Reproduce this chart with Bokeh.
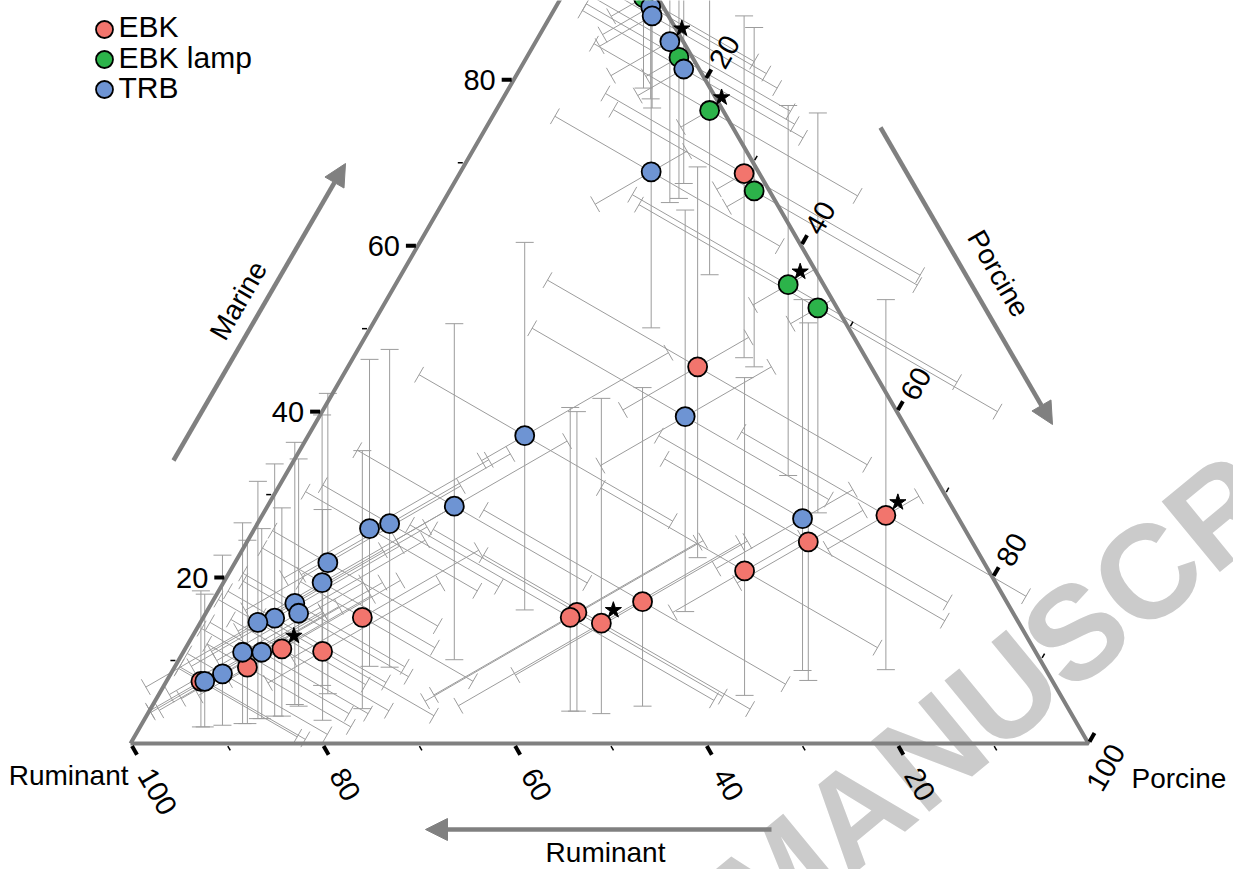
import math
from bokeh.plotting import figure
from bokeh.models import Range1d, Arrow, NormalHead, Label
from bokeh.core.properties import value
from bokeh.embed import file_html
from bokeh.resources import INLINE

# ---------------- data (percent: Marine, Porcine, Ruminant) ----------------
groups = ["EBK", "EBK lamp", "TRB"]
colors = {"EBK": "#F2756D", "EBK lamp": "#2CB34A", "TRB": "#6E94D3"}

ebk_marine   = [68.7, 45.4, 20.8, 17.1, 15.8, 15.2, 14.5, 27.5, 24.3, 15.2, 11.4, 11.1, 9.2, 7.5]
ebk_porcine  = [29.7, 36.5, 53.7, 44.9, 38.7, 38.3, 41.9, 65.1, 58.6, 16.6, 10.1, 14.5, 7.6, 3.6]
ebk_ruminant = [1.6, 18.1, 25.5, 38.0, 45.5, 46.5, 43.6, 7.4, 17.1, 68.2, 78.5, 74.4, 83.2, 88.9]
ebk_m_lo = [46.5, 22.4, 5.8, 4.5, 3.9, 3.9, 3.6, 8.9, 7.6, 4.2, 3.3, 2.8, 2.4, 2.0]
ebk_m_hi = [87.7, 69.5, 44.1, 42.9, 40.0, 40.5, 41.6, 53.5, 50.7, 35.3, 28.4, 28.2, 24.5, 18.4]
ebk_p_lo = [10.4, 15.6, 33.7, 22.8, 18.7, 16.0, 25.5, 45.0, 38.6, 8.0, 3.0, 6.0, 2.0, 0.5]
ebk_p_hi = [54.2, 60.1, 72.2, 64.8, 59.0, 58.3, 62.6, 84.6, 77.6, 32.0, 25.0, 30.0, 22.0, 17.0]
ebk_r_lo = [0.0, 11.0, 17.5, 23.4, 28.7, 28.0, 24.3, 2.8, 9.5, 52.0, 62.0, 58.0, 66.0, 72.0]
ebk_r_hi = [5.4, 28.5, 35.5, 55.7, 65.4, 66.7, 63.5, 15.5, 27.0, 78.0, 86.0, 82.0, 90.0, 96.0]
ebk_star = [6, 7, 10]

lamp_marine   = [89.9, 82.7, 76.3, 66.6, 55.3, 52.5]
lamp_porcine  = [8.6, 15.9, 22.3, 31.8, 41.0, 45.5]
lamp_ruminant = [1.5, 1.4, 1.4, 1.6, 3.7, 2.0]
lamp_m_lo = [79.0, 65.7, 56.5, 45.4, 32.3, 27.8]
lamp_m_hi = [97.5, 96.0, 97.0, 86.3, 76.9, 76.0]
lamp_p_lo = [1.0, 3.0, 6.2, 12.2, 19.3, 20.6]
lamp_p_hi = [24.0, 32.0, 42.9, 54.5, 64.5, 70.5]
lamp_r_lo = [0.0, 0.0, 0.0, 0.0, 0.0, 0.0]
lamp_r_hi = [6.0, 6.0, 5.4, 5.4, 8.6, 5.8]
lamp_star = [2, 4]

trb_marine   = [88.8, 87.7, 84.6, 81.3, 68.9, 37.1, 28.6, 39.4, 27.1, 25.9, 26.5, 21.8, 19.4, 16.9, 15.7, 15.1, 14.6, 11.0, 11.0, 8.4, 7.5]
trb_porcine  = [9.9, 10.6, 14.0, 17.1, 19.9, 22.6, 19.5, 38.2, 56.6, 12.0, 13.8, 9.7, 10.3, 8.7, 9.7, 7.5, 6.0, 6.2, 8.2, 5.4, 4.0]
trb_ruminant = [1.3, 1.7, 1.4, 1.6, 11.2, 40.3, 51.9, 22.4, 16.3, 62.1, 59.7, 68.5, 70.3, 74.4, 74.6, 77.4, 79.4, 82.8, 80.8, 86.2, 88.5]
trb_m_lo = [77.7, 76.6, 65.2, 67.5, 50.1, 16.1, 10.1, 15.9, 8.8, 9.3, 9.2, 6.0, 7.0, 4.7, 4.5, 3.3, 3.0, 2.4, 3.0, 2.2, 2.0]
trb_m_hi = [97.0, 96.0, 95.0, 95.0, 95.0, 60.4, 50.6, 64.3, 53.5, 46.3, 47.5, 42.2, 39.6, 36.3, 34.3, 33.7, 31.6, 26.6, 25.9, 22.7, 18.0]
trb_p_lo = [2.0, 3.0, 1.0, 3.0, 6.5, 7.9, 6.0, 16.9, 36.6, 3.1, 4.5, 2.0, 2.0, 1.5, 2.0, 1.0, 0.5, 0.5, 1.0, 0.5, 0.5]
trb_p_hi = [26.0, 28.0, 30.8, 33.7, 37.8, 43.2, 38.0, 58.2, 76.8, 27.0, 29.0, 25.0, 26.0, 24.0, 25.0, 23.0, 21.0, 21.0, 23.0, 20.0, 18.0]
trb_r_lo = [0.0, 0.0, 0.0, 0.0, 6.2, 20.3, 36.2, 10.4, 9.3, 45.5, 42.9, 50.0, 52.0, 56.0, 57.0, 60.0, 62.0, 66.0, 64.0, 70.0, 72.0]
trb_r_hi = [8.0, 9.0, 9.6, 8.0, 19.0, 46.3, 60.0, 34.2, 28.3, 74.0, 72.0, 80.0, 82.0, 86.0, 86.0, 89.0, 95.0, 93.0, 92.0, 95.0, 96.0]
trb_star = [2]

left_ticks = [20, 40, 60, 80]          # Marine
bottom_ticks = [100, 80, 60, 40, 20]    # Ruminant
right_ticks = [20, 40, 60, 80, 100]     # Porcine
minor_ticks = [10, 30, 50, 70, 90]

series = {
    "EBK": dict(m=ebk_marine, p=ebk_porcine, r=ebk_ruminant, mlo=ebk_m_lo, mhi=ebk_m_hi,
                plo=ebk_p_lo, phi=ebk_p_hi, rlo=ebk_r_lo, rhi=ebk_r_hi, star=ebk_star),
    "EBK lamp": dict(m=lamp_marine, p=lamp_porcine, r=lamp_ruminant, mlo=lamp_m_lo, mhi=lamp_m_hi,
                     plo=lamp_p_lo, phi=lamp_p_hi, rlo=lamp_r_lo, rhi=lamp_r_hi, star=lamp_star),
    "TRB": dict(m=trb_marine, p=trb_porcine, r=trb_ruminant, mlo=trb_m_lo, mhi=trb_m_hi,
                plo=trb_p_lo, phi=trb_p_hi, rlo=trb_r_lo, rhi=trb_r_hi, star=trb_star),
}

# ---------------- geometry ----------------
W, H = 1233, 869
PX = 100.0 / 958.0          # data units per pixel
VX, VY = 130, 743           # pixel position of the Ruminant vertex
S = math.sqrt(3) / 2.0
FONTNAME = "Liberation Sans"
FONT = value(FONTNAME)

def px(x, y):
    return ((x - VX) * PX, (VY - y) * PX)

def tern(m, p):
    return (p + m / 2.0, m * S)

p = figure(width=W, height=H, output_backend="svg", toolbar_location=None,
           x_range=Range1d(-VX * PX, (W - VX) * PX),
           y_range=Range1d(-(H - VY) * PX, VY * PX),
           x_axis_location=None, y_axis_location=None, min_border=0)
p.grid.visible = False
p.outline_line_color = None
p.background_fill_color = "white"
p.border_fill_color = "white"

# watermark
wx, wy = px(733, 913)
p.add_layout(Label(x=wx, y=wy, text="MANUSCRIPT", angle=math.radians(39.5),
                   text_font=FONTNAME, text_font_size="133px", text_font_style="bold",
                   text_color="#CBCBCB", text_align="left", text_baseline="alphabetic",
                   level="underlay"))

# ---------------- error bars ----------------
CAP = 9 * PX
seg_x, seg_y = [], []

def add(a, b):
    seg_x.append([a[0], b[0]])
    seg_y.append([a[1], b[1]])

def bar(a, b, cvec):
    add(a, b)
    for e in (a, b):
        add((e[0] - CAP * cvec[0], e[1] - CAP * cvec[1]), (e[0] + CAP * cvec[0], e[1] + CAP * cvec[1]))

for g in groups:
    d = series[g]
    for i in range(len(d["m"])):
        m, pc = d["m"][i], d["p"][i]
        X, Y = tern(m, pc)
        bar((X, d["mlo"][i] * S), (X, d["mhi"][i] * S), (1.0, 0.0))
        dv = (0.75, -S / 2)
        a = (X + dv[0] * (d["plo"][i] - pc), Y + dv[1] * (d["plo"][i] - pc))
        b = (X + dv[0] * (d["phi"][i] - pc), Y + dv[1] * (d["phi"][i] - pc))
        bar(a, b, (0.5, S))
        rr = d["r"][i]
        dv = (-0.75, -S / 2)
        a = (X + dv[0] * (d["rlo"][i] - rr), Y + dv[1] * (d["rlo"][i] - rr))
        b = (X + dv[0] * (d["rhi"][i] - rr), Y + dv[1] * (d["rhi"][i] - rr))
        bar(a, b, (0.5, -S))

p.multi_line(seg_x, seg_y, line_color="#9C9C9C", line_width=1)

# ---------------- triangle ----------------
tri = [tern(0, 0), tern(0, 100), tern(100, 0), tern(0, 0)]
p.line([t[0] for t in tri], [t[1] for t in tri], line_color="#808080", line_width=4)

# ticks
tx0, ty0, tx1, ty1 = [], [], [], []
mx0, my0, mx1, my1 = [], [], [], []
def tick(E, dvec, a, b, major=True):
    lst = (tx0, ty0, tx1, ty1) if major else (mx0, my0, mx1, my1)
    lst[0].append(E[0] + dvec[0] * a * PX); lst[1].append(E[1] + dvec[1] * a * PX)
    lst[2].append(E[0] + dvec[0] * b * PX); lst[3].append(E[1] + dvec[1] * b * PX)

lab_x, lab_y, lab_t = [], [], []
for m in left_ticks:
    E = tern(m, 0)
    tick(E, (-1, 0), 2, 12)
    lab_x.append(E[0] - 18 * PX); lab_y.append(E[1]); lab_t.append(str(m))
p.text(lab_x, lab_y, text=lab_t, text_align="right", text_baseline="middle",
       text_font=FONT, text_font_size="29px", text_color="black")

bx, by, bt = [], [], []
for r in bottom_ticks:
    E = tern(0, 100 - r)
    tick(E, (0.5, -S), 3, 13)
    bx.append(E[0] + 15 * PX); by.append(E[1] - 27 * PX); bt.append(str(r))
p.text(bx, by, text=bt, angle=-math.pi / 3, text_align="left", text_baseline="middle",
       text_font=FONT, text_font_size="29px", text_color="black")

rx, ry, rt = [], [], []
for pc in right_ticks:
    E = tern(100 - pc, pc)
    tick(E, (0.5, S), 2, 12)
    if pc == 100:
        rx.append(E[0] + 5 * PX); ry.append(E[1] - 45 * PX)
    else:
        rx.append(E[0] + 11 * PX); ry.append(E[1] + 14 * PX)
    rt.append(str(pc))
p.text(rx, ry, text=rt, angle=math.pi / 3, text_align="left", text_baseline="middle",
       text_font=FONT, text_font_size="29px", text_color="black")

for v in minor_ticks:
    tick(tern(v, 0), (-1, 0), 3, 8, major=False)
    tick(tern(0, v), (0.5, -S), 3, 8, major=False)
    tick(tern(100 - v, v), (0.5, S), 3, 8, major=False)

p.segment(tx0, ty0, tx1, ty1, line_color="black", line_width=4)
p.segment(mx0, my0, mx1, my1, line_color="black", line_width=1.5)

# ---------------- points ----------------
for g in groups:
    d = series[g]
    xs = [tern(m, pc)[0] for m, pc in zip(d["m"], d["p"])]
    ys = [tern(m, pc)[1] for m, pc in zip(d["m"], d["p"])]
    p.scatter(xs, ys, size=19, fill_color=colors[g], line_color="black", line_width=1.8)

sx, sy = [], []
for g in groups:
    d = series[g]
    for i in d["star"]:
        X, Y = tern(d["m"][i], d["p"][i])
        sx.append(X + 12 * PX); sy.append(Y + 13 * PX)
p.scatter(sx, sy, marker="star", size=17, fill_color="black", line_color="black")

# ---------------- axis titles & arrows ----------------
def arrow(a, b):
    A, B = px(*a), px(*b)
    p.add_layout(Arrow(end=NormalHead(size=22, fill_color="#808080", line_color="#808080"),
                       x_start=A[0], y_start=A[1], x_end=B[0], y_end=B[1],
                       line_color="#808080", line_width=4.5))

arrow((173, 460), (345, 163))
arrow((880, 127), (1052, 424))
arrow((771, 829), (425, 829))

def label(text, pos, angle=0.0, align="center", size="28px"):
    X, Y = px(*pos)
    p.text([X], [Y], text=[text], angle=angle, text_align=align, text_baseline="middle",
           text_font=FONT, text_font_size=size, text_color="black")

label("Marine", (238, 300), math.pi / 3)
label("Porcine", (998, 273), -math.pi / 3)
label("Ruminant", (605, 852))
label("Ruminant", (128, 775), align="right")
label("Porcine", (1131, 778), align="left")

# ---------------- legend ----------------
leg_pts = [px(104, 29), px(104, 59), px(104, 89)]
leg_txt = [px(118, 26), px(118, 57), px(118, 87)]
for g, pt, tp in zip(groups, leg_pts, leg_txt):
    p.scatter([pt[0]], [pt[1]], size=17, fill_color=colors[g], line_color="black", line_width=1.8)
    label(g, (118, 0), align="left") if False else None
    p.text([tp[0]], [tp[1]], text=[g], text_align="left", text_baseline="middle",
           text_font=FONT, text_font_size="30px", text_color="black")

open("out.html", "w").write(file_html(p, INLINE))
